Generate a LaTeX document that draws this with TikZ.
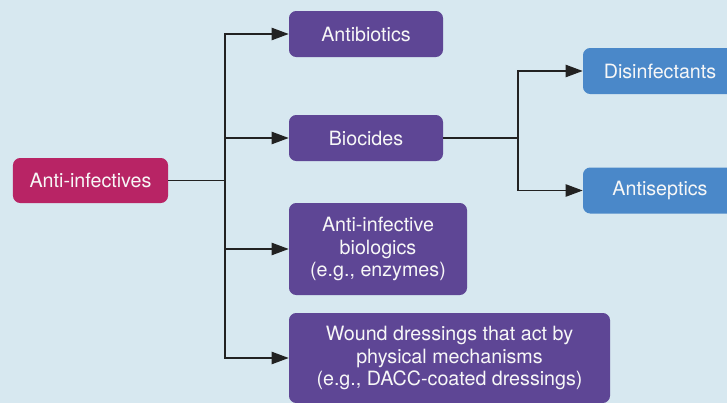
\documentclass[tikz,border=0pt]{standalone}
\usepackage{fontspec}
\setmainfont{TeX Gyre Heros}
\usepackage{xcolor}
\definecolor{bgblue}{HTML}{D7E8F0}
\definecolor{rootmagenta}{HTML}{B82465}
\definecolor{catpurple}{HTML}{5E4695}
\definecolor{subblue}{HTML}{4A88C9}
\definecolor{linegray}{HTML}{222222}
\usepackage{tikz}
\usetikzlibrary{arrows.meta, positioning}

\begin{document}
\begin{tikzpicture}[
  catbox/.style={rectangle, rounded corners=0.18cm, draw=none, text=white!94!gray,
    inner sep=0pt, align=center, font=\fontsize{14}{16}\selectfont},
  link/.style={draw=linegray, line width=0.038cm},
  arr/.style={link, -{Triangle[length=0.43cm, width=0.31cm]}}
]
% Background
\fill[bgblue] (0,0) rectangle (18.175,-10.075);
\useasboundingbox (0,0) rectangle (18.175,-10.075);

% Root
\node[catbox, fill=rootmagenta, minimum width=3.875cm, minimum height=1.125cm] (anti) at (2.2625,-4.5125) {Anti-infectives};

% Categories
\node[catbox, fill=catpurple, minimum width=3.85cm, minimum height=1.15cm] (antibio) at (9.15,-0.85) {Antibiotics};
\node[catbox, fill=catpurple, minimum width=3.85cm, minimum height=1.15cm] (biocides) at (9.15,-3.45) {Biocides};
\node[catbox, fill=catpurple, minimum width=4.45cm, minimum height=2.3cm] (biologics) at (9.45,-6.225) {Anti-infective\\biologics\\(e.g., enzymes)};
\node[catbox, fill=catpurple, minimum width=8.025cm, minimum height=2.25cm] (wound) at (11.2375,-8.95) {Wound dressings that act by\\physical mechanisms\\(e.g., DACC-coated dressings)};

% Biocide types
\node[catbox, fill=subblue, minimum width=3.85cm, minimum height=1.15cm] (disinf) at (16.5,-1.775) {Disinfectants};
\node[catbox, fill=subblue, minimum width=3.85cm, minimum height=1.15cm] (antisep) at (16.5,-4.7625) {Antiseptics};

% Connectors
\coordinate (trunk) at (5.625,-4.5125);
\coordinate (fork) at (12.95,-3.45);
\draw[link] (anti.east) -- (trunk);
\draw[arr] (trunk) |- (antibio.west);
\draw[arr] (trunk) |- (biocides.west);
\draw[arr] (trunk) |- (biologics.west);
\draw[arr] (trunk) |- (wound.west);
\draw[link] (biocides.east) -- (fork);
\draw[arr] (fork) |- (disinf.west);
\draw[arr] (fork) |- (antisep.west);
\end{tikzpicture}
\end{document}
